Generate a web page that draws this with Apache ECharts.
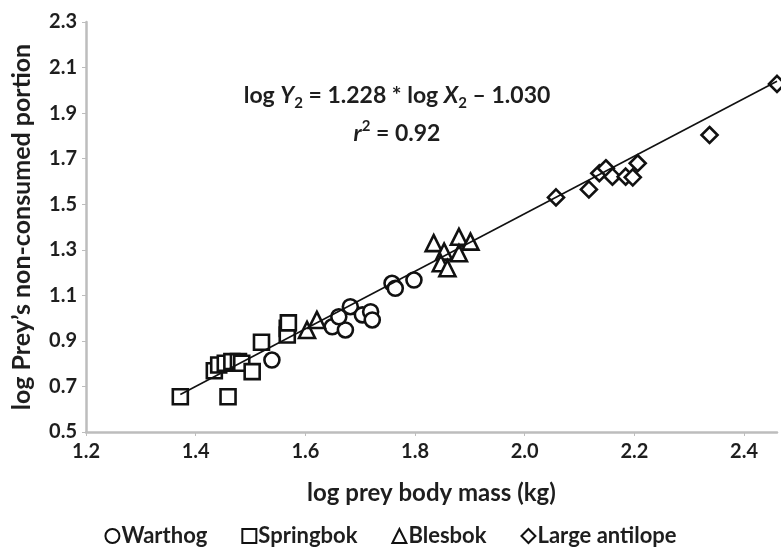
<!DOCTYPE html>
<html>
<head>
<meta charset="utf-8">
<script src="https://cdn.jsdelivr.net/npm/echarts@6/dist/echarts.min.js"></script>
<style>html,body{margin:0;padding:0;background:#fff}#c{width:781px;height:551px}</style>
</head>
<body>
<div id="c"></div>
<script>
var warthog = [[1.539,0.816],[1.649,0.962],[1.673,0.948],[1.661,1.006],[1.682,1.050],[1.704,1.014],[1.719,1.028],[1.722,0.992],[1.758,1.153],[1.764,1.131],[1.798,1.167]];
var springbok = [[1.372,0.655],[1.459,0.655],[1.434,0.769],[1.442,0.794],[1.454,0.802],[1.466,0.809],[1.478,0.809],[1.484,0.802],[1.503,0.765],[1.520,0.894],[1.567,0.955],[1.567,0.926],[1.569,0.979]];
var blesbok = [[1.603,0.948],[1.621,0.992],[1.834,1.329],[1.853,1.292],[1.847,1.241],[1.859,1.219],[1.880,1.357],[1.901,1.336],[1.880,1.285]];
var largeAntilope = [[2.057,1.530],[2.117,1.565],[2.136,1.636],[2.148,1.658],[2.160,1.621],[2.184,1.621],[2.197,1.618],[2.206,1.680],[2.337,1.804],[2.460,2.028]];
var fitLine = [[1.372,0.665],[2.46,2.04]];
var xTicks = {min:1.2, max:2.46, interval:0.2};
var yTicks = {min:0.5, max:2.3, interval:0.2};
var seriesNames = ['Warthog','Springbok','Blesbok','Large antilope'];
var xTitle = 'log prey body mass (kg)';
var yTitle = 'log Prey\u2019s non-consumed portion';

var FONT = 'Lato, "Open Sans", sans-serif';
var INK = '#1e1e1e';
var chart = echarts.init(document.getElementById('c'), null, {renderer:'canvas'});
function sc(name, data, sym, size){
  return {name:name, type:'scatter', data:data, symbol:sym, symbolSize:size, clip:false,
    itemStyle:{color:'#fff', borderColor:'#111', borderWidth:2.6, opacity:1}, z:3};
}
chart.setOption({
  animation:false,
  grid:{left:86, right:4, top:22, bottom:119, containLabel:false},
  xAxis:{type:'value', min:xTicks.min, max:xTicks.max, interval:xTicks.interval,
    name:xTitle, nameLocation:'middle', nameGap:49,
    nameTextStyle:{fontFamily:FONT, fontWeight:'bold', fontSize:24, color:INK},
    axisLine:{lineStyle:{color:'#bdbdbd', width:2.5}},
    axisTick:{show:true, length:4, lineStyle:{color:'#bdbdbd', width:1}},
    axisLabel:{fontFamily:FONT, fontWeight:'bold', fontSize:20, color:INK, margin:10,
      formatter:function(v){return v.toFixed(1);}, showMaxLabel:false},
    splitLine:{show:false}},
  yAxis:{type:'value', min:yTicks.min, max:yTicks.max, interval:yTicks.interval,
    name:yTitle, nameLocation:'middle', nameGap:52,
    nameTextStyle:{fontFamily:FONT, fontWeight:'bold', fontSize:25, color:INK},
    axisLine:{show:true, lineStyle:{color:'#bdbdbd', width:2.5}},
    axisTick:{show:true, length:4, lineStyle:{color:'#bdbdbd', width:1}},
    axisLabel:{fontFamily:FONT, fontWeight:'bold', fontSize:20, color:INK, margin:9,
      formatter:function(v){return v.toFixed(1);}},
    splitLine:{show:false}},
  legend:{top:525, left:'center', padding:0, itemGap:34, itemWidth:14, itemHeight:14,
    data:[{name:seriesNames[0], icon:'circle'},{name:seriesNames[1], icon:'rect'},{name:seriesNames[2], icon:'triangle'},{name:seriesNames[3], icon:'diamond'}],
    textStyle:{fontFamily:FONT, fontWeight:'bold', fontSize:22, color:INK, padding:[0,0,0,-3]}},
  graphic:[{type:'text', x:397, y:96, z:10,
    style:{text:'{n|log }{i|Y}{s|2}{n| = 1.228 * log }{i|X}{s|2}{n| \u2013 1.030}', align:'center', verticalAlign:'middle',
      rich:{n:{fontFamily:FONT, fontWeight:'bold', fontSize:23, lineHeight:30, fill:INK},
            i:{fontFamily:FONT, fontWeight:'bold', fontStyle:'italic', fontSize:23, lineHeight:30, fill:INK},
            s:{fontFamily:FONT, fontWeight:'bold', fontSize:15, lineHeight:15, verticalAlign:'bottom', fill:INK}}}},
    {type:'text', x:397, y:134, z:10,
    style:{text:'{i|r}{p|2}{n| = 0.92}', align:'center', verticalAlign:'middle',
      rich:{n:{fontFamily:FONT, fontWeight:'bold', fontSize:23, lineHeight:30, fill:INK},
            i:{fontFamily:FONT, fontWeight:'bold', fontStyle:'italic', fontSize:23, lineHeight:30, fill:INK},
            p:{fontFamily:FONT, fontWeight:'bold', fontSize:15, lineHeight:15, verticalAlign:'top', fill:INK}}}}],
  series:[
    sc(seriesNames[0], warthog, 'circle', 15),
    sc(seriesNames[1], springbok, 'rect', 15),
    sc(seriesNames[2], blesbok, 'triangle', 16),
    sc(seriesNames[3], largeAntilope, 'diamond', 16),
    {type:'line', data:fitLine, symbol:'none', lineStyle:{color:'#111', width:1.6}, z:4, silent:true}
  ]
});
</script>
</body>
</html>
